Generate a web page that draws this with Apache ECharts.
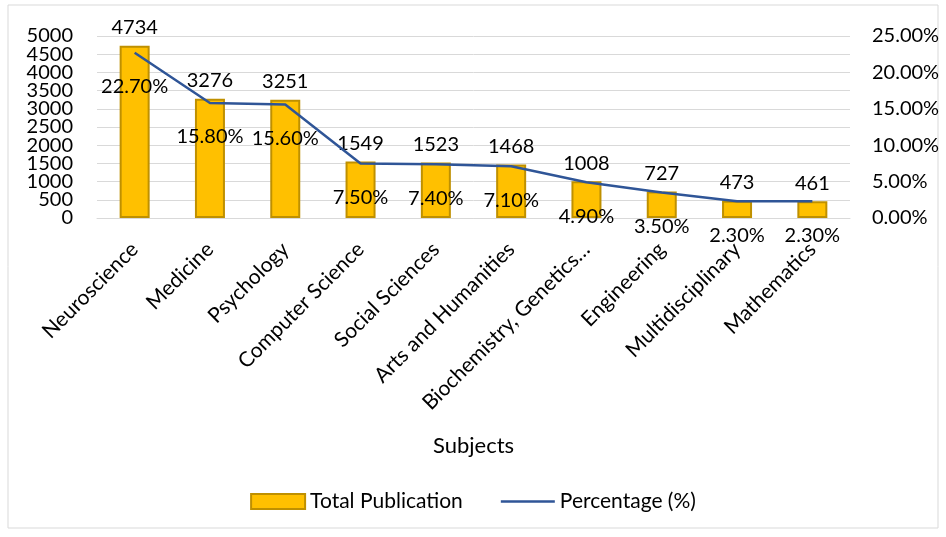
<!DOCTYPE html>
<html><head><meta charset="utf-8">
<script src="https://cdn.jsdelivr.net/npm/echarts@6/dist/echarts.min.js"></script>
<style>html,body{margin:0;padding:0;background:#fff}#c{width:946px;height:537px}</style>
</head><body><div id="c"></div>
<script>
const categories = ['Neuroscience','Medicine','Psychology','Computer Science','Social Sciences','Arts and Humanities','Biochemistry, Genetics\u2026','Engineering','Multidisciplinary','Mathematics'];
const totalPublication = [4734,3276,3251,1549,1523,1468,1008,727,473,461];
const percentage = [22.7,15.8,15.6,7.5,7.4,7.1,4.9,3.5,2.3,2.3];
const FONT = 'Lato, "Open Sans", sans-serif';
const chart = echarts.init(document.getElementById('c'));
const leftLabel = {fontSize:20,color:'#000',margin:24,fontFamily:FONT,formatter:v=>String(v)};
chart.setOption({
  animation:false,
  textStyle:{fontFamily:FONT,color:'#000'},
  graphic:[{type:'rect',shape:{x:8,y:5,width:930,height:523},style:{fill:'none',stroke:'#D9D9D9',lineWidth:1},silent:true}],
  grid:{left:97,right:96,top:36,bottom:319},
  legend:{bottom:20,itemGap:38,itemWidth:54,itemHeight:15,textStyle:{fontSize:21,color:'#000',fontFamily:FONT},
    data:[{name:'Total Publication',icon:'rect'},{name:'Percentage (%)',icon:'path://M0,0h50v2.5h-50z'}]},
  xAxis:{type:'category',data:categories,
    axisLine:{lineStyle:{color:'#D9D9D9'}},axisTick:{show:false},
    axisLabel:{rotate:45,fontSize:21,color:'#000',margin:28,interval:0,fontFamily:FONT},
    name:'Subjects',nameLocation:'middle',nameGap:217,nameTextStyle:{fontSize:22,color:'#000',fontFamily:FONT}},
  yAxis:[
    {type:'value',position:'left',min:0,max:5000,interval:500,axisLine:{show:false},axisTick:{show:false},
     splitLine:{lineStyle:{color:'#D9D9D9'}},
     axisLabel:Object.assign({showMinLabel:false,showMaxLabel:false},leftLabel)},
    {type:'value',position:'left',min:0,max:5000,interval:5000,axisLine:{show:false},axisTick:{show:false},
     splitLine:{show:false},axisLabel:Object.assign({showMinLabel:true,showMaxLabel:true},leftLabel)},
    {type:'value',position:'right',min:0,max:25,interval:5,axisLine:{show:false},axisTick:{show:false},splitLine:{show:false},
     axisLabel:{fontSize:20,color:'#000',margin:22,fontFamily:FONT,showMinLabel:true,showMaxLabel:true,formatter:v=>v.toFixed(2)+'%'}}
  ],
  series:[
    {name:'Total Publication',type:'bar',yAxisIndex:0,data:totalPublication,barWidth:30,
     itemStyle:{color:'#FFC000',borderColor:'#BF9000',borderWidth:2},
     label:{show:true,position:'top',distance:8,fontSize:20,color:'#000',fontFamily:FONT}},
    {name:'Percentage (%)',type:'line',yAxisIndex:2,data:percentage,showSymbol:true,symbol:'circle',symbolSize:0,
     lineStyle:{color:'#2F5597',width:2.5},itemStyle:{color:'#2F5597'},
     label:{show:true,position:'bottom',distance:24,fontSize:20,color:'#000',fontFamily:FONT,formatter:p=>p.value.toFixed(2)+'%'}}
  ]
});
</script></body></html>
